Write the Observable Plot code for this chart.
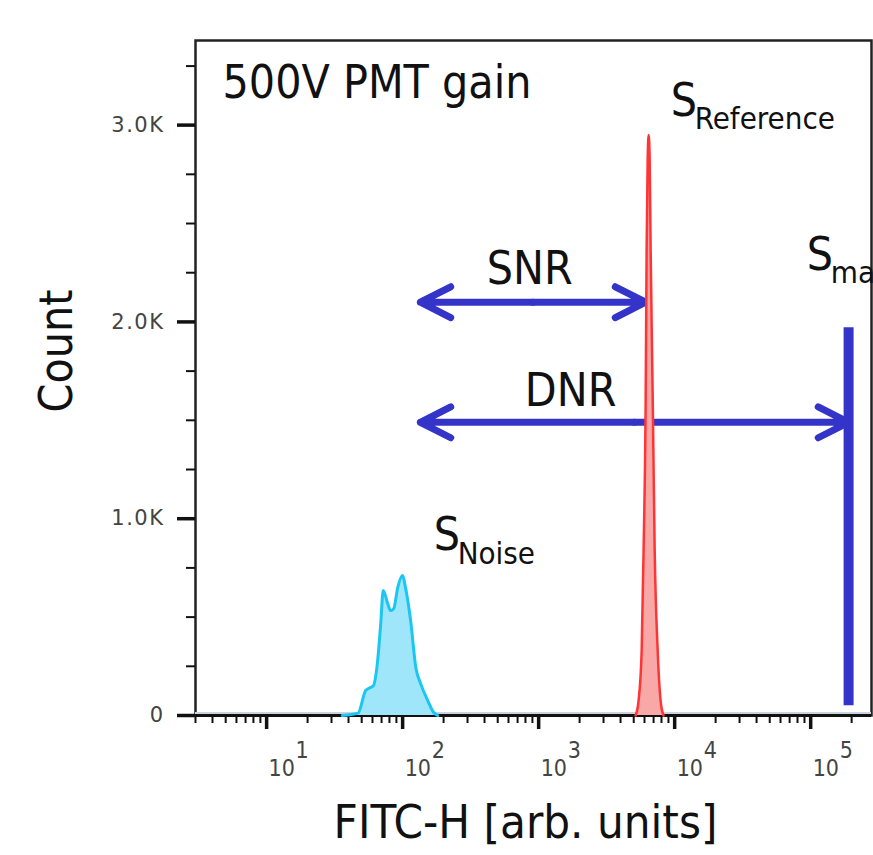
<!DOCTYPE html>
<html><head><meta charset="utf-8">
<script src="https://cdn.jsdelivr.net/npm/d3@7"></script>
<script src="https://cdn.jsdelivr.net/npm/@observablehq/plot@0.6"></script>
<style>
  body { margin: 0; background: #fff; }
  #chart { width: 873px; height: 855px; overflow: hidden; }
  g[font-size="21"][text-anchor="end"] text { letter-spacing: 1.5px; }
</style>
</head><body><div id="chart"></div>
<script>
// ---------- data ----------
// Noise (cyan) histogram: FITC-H value, count
const noiseX     = [36, 47, 53.5, 58, 61, 65.5, 69, 72, 77.6, 81.6, 86, 92, 100, 105, 114.5, 125, 135.6, 153, 169, 181];
const noiseCount = [0, 12, 127, 142, 152, 279, 467, 635, 569, 533, 543, 650, 711, 650, 482, 244, 162, 76, 15, 0];
// Reference (red) histogram
const refX     = [5160, 5430, 5720, 5910, 6120, 6220, 6330, 6440, 6550, 6660, 6900, 7130, 7500, 7880, 8280];
const refCount = [0, 76, 330, 840, 1600, 2360, 2820, 2950, 2820, 2360, 1600, 840, 330, 76, 0];
// Range arrows
const arrowNames = ["SNR", "DNR"];
const arrowFrom  = [135, 135];
const arrowTo    = [6120, 190000];
const arrowCount = [2100, 1490];
const arrowLabelX = [859, 1718];
const arrowLabelY = [2269, 1650];
// S_max bar
const smaxX = 190000;
const smaxFrom = 50;
const smaxTo = 1970;
// Signal labels (S with subscript)
const signalNames = ["Noise", "Reference", "max"];
const signalX = [169, 9350, 93500];
const signalY = [914, 3122, 2340];
// Title
const titleText = "500V PMT gain";
const titleX = 4.74;
const titleY = 3213;
// Axes
const xMajor = [10, 100, 1000, 10000, 100000];
const xExp = ["1", "2", "3", "4", "5"];
const yMajor = [0, 1000, 2000, 3000];
const yLabels = ["0", "1.0K", "2.0K", "3.0K"];
const yMinor = [250, 500, 750, 1250, 1500, 1750, 2250, 2500, 2750, 3300];
const xLabel = "FITC-H [arb. units]";
const yLabel = "Count";
const xDomain = [3, 280000];
const yDomain = [0, 3430];

// ---------- derived ----------
const xMinor = [];
for (const d of [1, 10, 100, 1000, 10000, 100000]) {
  for (let m = 2; m <= 9; m++) {
    const v = m * d;
    if (v >= xDomain[0] && v <= xDomain[1]) xMinor.push(v);
  }
}
const noise = noiseX.map((x, i) => ({x, count: noiseCount[i]}));
const ref = refX.map((x, i) => ({x, count: refCount[i]}));
const heads = [];
arrowNames.forEach((n, i) => {
  const mid = Math.sqrt(arrowFrom[i] * arrowTo[i]);
  heads.push({x1: mid, x2: arrowFrom[i], y: arrowCount[i]});
  heads.push({x1: mid, x2: arrowTo[i], y: arrowCount[i]});
});
const arrowLabels = arrowNames.map((n, i) => ({n, x: arrowLabelX[i], y: arrowLabelY[i]}));
const signals = signalNames.map((n, i) => ({n, x: signalX[i], y: signalY[i]}));

const FONT = "'DejaVu Sans Condensed', 'DejaVu Sans', sans-serif";
const TICKFONT = "'DejaVu Sans', sans-serif";
const BLUE = "#3434c8";

const chart = Plot.plot({
  width: 873,
  height: 855,
  marginLeft: 195,
  marginTop: 40,
  marginRight: 2,
  marginBottom: 140,
  style: {fontFamily: FONT, background: "#fff", overflow: "hidden"},
  x: {type: "log", domain: xDomain},
  y: {domain: yDomain},
  marks: [
    // frame and axes
    Plot.frame({stroke: "#222", strokeWidth: 2.5}),
    Plot.ruleY([0], {stroke: "#c9d2de", strokeWidth: 2, dy: -2.5}),
    Plot.ruleY([0], {stroke: "#111", strokeWidth: 3}),
    Plot.axisX(xMinor, {tickSize: 8, strokeWidth: 2, stroke: "#111", tickFormat: () => "", label: null}),
    Plot.axisX(xMajor, {tickSize: 14, strokeWidth: 3.5, stroke: "#111", tickFormat: () => "", label: null}),
    Plot.axisY(yMinor, {tickSize: 9, strokeWidth: 2, stroke: "#111", tickFormat: () => "", label: null}),
    Plot.axisY(yMajor, {tickSize: 18, strokeWidth: 3.5, stroke: "#111", tickFormat: () => "", label: null}),
    // cyan noise histogram
    Plot.areaY(noise, {x: "x", y: "count", fill: "#a0e6fa", curve: "monotone-x"}),
    Plot.lineY(noise, {x: "x", y: "count", stroke: "#1cc6f2", strokeWidth: 3, curve: "monotone-x"}),
    // blue range arrows
    Plot.arrow(heads, {x1: "x1", x2: "x2", y1: "y", y2: "y", stroke: BLUE, strokeWidth: 7,
      headLength: 7.3, headAngle: 54, strokeLinecap: "round", strokeLinejoin: "round"}),
    Plot.ruleX([smaxX], {x: d => d, y1: smaxFrom, y2: smaxTo, stroke: BLUE, strokeWidth: 10}),
    // red reference histogram
    Plot.areaY(ref, {x: "x", y: "count", fill: "#f9a8a8", curve: "monotone-x"}),
    Plot.lineY(ref, {x: "x", y: "count", stroke: "#ff3434", strokeWidth: 2.5, curve: "monotone-x"}),
    // tick labels
    Plot.text(xMajor, {x: d => d, frameAnchor: "bottom", text: () => "10", dx: 2, dy: 53,
      textAnchor: "start", lineAnchor: "middle", fontSize: 23, fill: "#444"}),
    Plot.text(xMajor, {x: d => d, frameAnchor: "bottom", text: (d, i) => xExp[i], dx: 29, dy: 35,
      textAnchor: "start", lineAnchor: "middle", fontSize: 23, fill: "#444"}),
    Plot.text(yMajor, {y: d => d, frameAnchor: "left", text: (d, i) => yLabels[i], dx: -31,
      textAnchor: "end", lineAnchor: "middle", fontSize: 21, fill: "#444", fontFamily: TICKFONT}),
    Plot.text([xLabel], {frameAnchor: "bottom", text: d => d, dx: -8, dy: 107,
      textAnchor: "middle", lineAnchor: "middle", fontSize: 47, fill: "#111"}),
    Plot.text([yLabel], {frameAnchor: "left", text: d => d, dx: -138, dy: -27, rotate: -90,
      textAnchor: "middle", lineAnchor: "middle", fontSize: 46, fill: "#111"}),
    // annotations
    Plot.text([titleText], {x: titleX, y: titleY, text: d => d, textAnchor: "start", fontSize: 46, fill: "#111"}),
    Plot.text(arrowLabels, {x: "x", y: "y", text: "n", fontSize: 46, fill: "#111"}),
    Plot.text(signals, {x: "x", y: "y", text: () => "S", textAnchor: "start", fontSize: 46, fill: "#111"}),
    Plot.text(signals, {x: "x", y: "y", text: "n", textAnchor: "start", dx: 24, dy: 18, fontSize: 31, fill: "#111"})
  ]
});
document.getElementById("chart").appendChild(chart);
</script>
</body></html>
